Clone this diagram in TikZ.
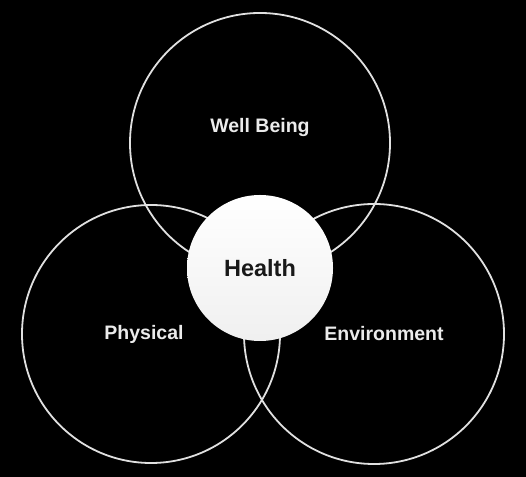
\documentclass[tikz,border=0pt]{standalone}
\usepackage{fontspec}
\setmainfont{Liberation Sans}
\colorlet{ringcol}{white!88!black}
\colorlet{txtcol}{white!92!black}
\tikzstyle{ring}=[circle, draw=ringcol, line width=1.8bp, inner sep=0pt, minimum size=260bp]
\tikzstyle{hub}=[circle, inner sep=0pt, minimum size=146bp, top color=white, middle color=white, bottom color=black!6]
\tikzstyle{label}=[text=txtcol, font=\bfseries\fontsize{19.5bp}{23bp}\selectfont]

\begin{document}
\begin{tikzpicture}[x=1bp, y=1bp]
			\useasboundingbox[fill=black] (0,0) rectangle (526,477);
			\node[ring] (well) at (260, 334) {};
			\node[ring, minimum size=258bp] (phys) at (151, 143) {};
			\node[ring] (env) at (374, 143) {};

			% Center
			\node[hub] (health) at (260, 209) {};

			\node[label] (wlab) at (260, 349) {Well Being};
			\node[label] (plab) at (144, 143) {Physical};
			\node[label] (elab) at (384, 143) {Environment};
			\node[text=black!90, font=\bfseries\fontsize{23.5bp}{28bp}\selectfont] (hlab) at (260, 209) {Health};
		\end{tikzpicture}
\end{document}
